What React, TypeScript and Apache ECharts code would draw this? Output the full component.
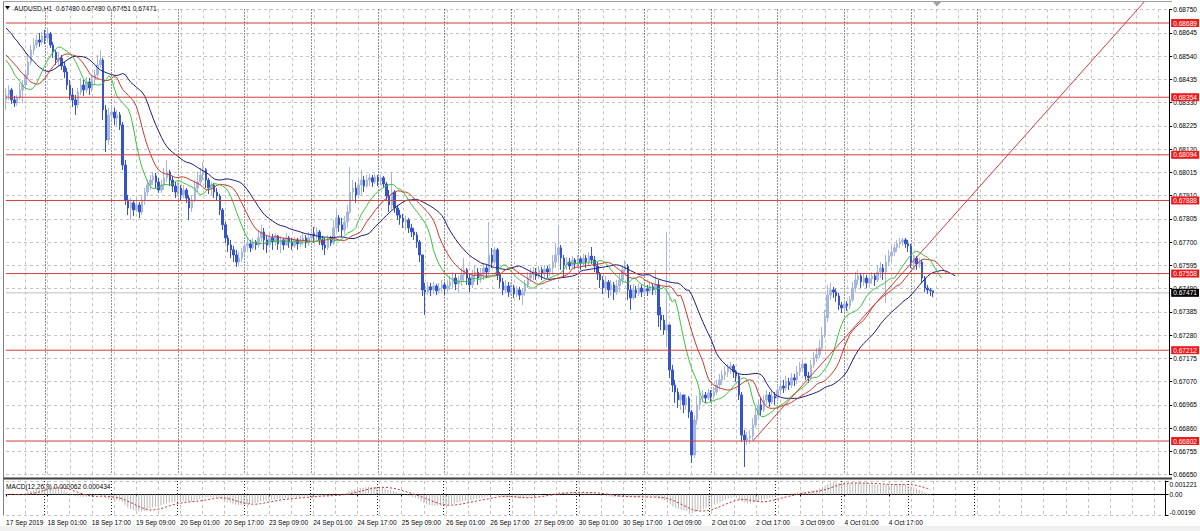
import React, { useEffect, useRef } from 'react';
import * as echarts from 'echarts';

// ---- data (AUDUSD H1) ----
const DAYS = ['17 Sep','18 Sep','19 Sep','20 Sep','23 Sep','24 Sep','25 Sep','26 Sep','27 Sep','30 Sep','1 Oct','2 Oct','3 Oct','4 Oct','7 Oct','8 Oct','9 Oct','10 Oct'];
const FIRST_HOUR = 10;
const SLOTS = 420;

const closeP = [
0.68364,0.68387,0.68342,0.68328,0.68351,0.68387,0.68409,0.68455,0.68513,0.68567,
0.68590,0.68612,0.68603,0.68631,0.68621,0.68640,0.68590,0.68558,0.68522,0.68531,
0.68495,0.68468,0.68409,0.68364,0.68342,0.68319,0.68378,0.68409,0.68387,0.68423,
0.68396,0.68432,0.68455,0.68500,0.68522,0.68297,0.68161,0.68274,0.68287,0.68260,
0.68274,0.68229,0.68048,0.67890,0.67854,0.67877,0.67845,0.67868,0.67836,0.67890,
0.67926,0.67958,0.67980,0.67999,0.67971,0.67935,0.67958,0.67990,0.68017,0.67980,
0.67953,0.67926,0.67944,0.67913,0.67935,0.67899,0.67854,0.67890,0.67944,0.67971,
0.68003,0.68026,0.67980,0.67944,0.67958,0.67926,0.67908,0.67845,0.67778,0.67719,
0.67687,0.67665,0.67642,0.67610,0.67628,0.67655,0.67683,0.67692,0.67674,0.67701,
0.67687,0.67719,0.67746,0.67710,0.67687,0.67719,0.67701,0.67728,0.67692,0.67710,
0.67687,0.67719,0.67701,0.67683,0.67710,0.67692,0.67705,0.67719,0.67696,0.67719,
0.67737,0.67728,0.67746,0.67710,0.67687,0.67674,0.67710,0.67696,0.67764,0.67809,
0.67778,0.67755,0.67791,0.67836,0.67926,0.67944,0.67913,0.67958,0.67980,0.67953,
0.67980,0.67990,0.67971,0.67994,0.67976,0.67990,0.67962,0.67908,0.67868,0.67926,
0.67854,0.67822,0.67809,0.67791,0.67800,0.67764,0.67746,0.67732,0.67701,0.67642,
0.67484,0.67475,0.67498,0.67484,0.67502,0.67480,0.67493,0.67507,0.67489,0.67502,
0.67520,0.67538,0.67511,0.67529,0.67552,0.67575,0.67538,0.67507,0.67547,0.67565,
0.67538,0.67556,0.67583,0.67565,0.67642,0.67610,0.67665,0.67552,0.67520,0.67484,
0.67502,0.67475,0.67493,0.67466,0.67484,0.67461,0.67475,0.67507,0.67538,0.67552,
0.67565,0.67547,0.67575,0.67556,0.67579,0.67565,0.67583,0.67610,0.67642,0.67674,
0.67628,0.67597,0.67610,0.67592,0.67619,0.67601,0.67624,0.67606,0.67628,0.67610,
0.67637,0.67619,0.67592,0.67556,0.67529,0.67493,0.67520,0.67484,0.67507,0.67475,
0.67502,0.67529,0.67575,0.67592,0.67484,0.67448,0.67484,0.67470,0.67493,0.67475,
0.67489,0.67480,0.67498,0.67484,0.67507,0.67371,0.67348,0.67303,0.67326,0.67123,
0.67055,0.67023,0.66987,0.67010,0.66965,0.66996,0.66933,0.66739,0.66897,0.66965,
0.66996,0.67010,0.66996,0.67019,0.67005,0.67023,0.67055,0.67078,0.67100,0.67114,
0.67132,0.67141,0.67114,0.67096,0.67010,0.66829,0.66807,0.66816,0.66825,0.66875,
0.66919,0.66965,0.66942,0.66987,0.67010,0.66978,0.67005,0.66996,0.67032,0.67050,
0.67041,0.67069,0.67055,0.67087,0.67078,0.67114,0.67132,0.67150,0.67096,0.67087,
0.67146,0.67177,0.67191,0.67222,0.67281,0.67358,0.67461,0.67484,0.67475,0.67457,
0.67416,0.67403,0.67421,0.67412,0.67439,0.67493,0.67529,0.67547,0.67520,0.67538,
0.67516,0.67534,0.67547,0.67529,0.67565,0.67583,0.67565,0.67610,0.67637,0.67655,
0.67674,0.67692,0.67701,0.67710,0.67692,0.67683,0.67610,0.67628,0.67601,0.67610,
0.67538,0.67493,0.67484,0.67480,0.67471
];

const openP = [
0.68342,0.68364,0.68387,0.68342,0.68328,0.68351,0.68387,0.68409,0.68455,0.68513,
0.68567,0.68590,0.68612,0.68603,0.68631,0.68621,0.68640,0.68590,0.68558,0.68522,
0.68531,0.68495,0.68468,0.68409,0.68364,0.68342,0.68319,0.68378,0.68409,0.68387,
0.68423,0.68396,0.68432,0.68455,0.68500,0.68522,0.68297,0.68161,0.68274,0.68287,
0.68260,0.68274,0.68229,0.68048,0.67890,0.67854,0.67877,0.67845,0.67868,0.67836,
0.67890,0.67926,0.67958,0.67980,0.67999,0.67971,0.67935,0.67958,0.67990,0.68017,
0.67980,0.67953,0.67926,0.67944,0.67913,0.67935,0.67899,0.67854,0.67890,0.67944,
0.67971,0.68003,0.68026,0.67980,0.67944,0.67958,0.67926,0.67908,0.67845,0.67778,
0.67719,0.67687,0.67665,0.67642,0.67610,0.67628,0.67655,0.67683,0.67692,0.67674,
0.67701,0.67687,0.67719,0.67746,0.67710,0.67687,0.67719,0.67701,0.67728,0.67692,
0.67710,0.67687,0.67719,0.67701,0.67683,0.67710,0.67692,0.67705,0.67719,0.67696,
0.67719,0.67737,0.67728,0.67746,0.67710,0.67687,0.67674,0.67710,0.67696,0.67764,
0.67809,0.67778,0.67755,0.67791,0.67836,0.67926,0.67944,0.67913,0.67958,0.67980,
0.67953,0.67980,0.67990,0.67971,0.67994,0.67976,0.67990,0.67962,0.67908,0.67868,
0.67926,0.67854,0.67822,0.67809,0.67791,0.67800,0.67764,0.67746,0.67732,0.67701,
0.67642,0.67484,0.67475,0.67498,0.67484,0.67502,0.67480,0.67493,0.67507,0.67489,
0.67502,0.67520,0.67538,0.67511,0.67529,0.67552,0.67575,0.67538,0.67507,0.67547,
0.67565,0.67538,0.67556,0.67583,0.67565,0.67642,0.67610,0.67665,0.67552,0.67520,
0.67484,0.67502,0.67475,0.67493,0.67466,0.67484,0.67461,0.67475,0.67507,0.67538,
0.67552,0.67565,0.67547,0.67575,0.67556,0.67579,0.67565,0.67583,0.67610,0.67642,
0.67674,0.67628,0.67597,0.67610,0.67592,0.67619,0.67601,0.67624,0.67606,0.67628,
0.67610,0.67637,0.67619,0.67592,0.67556,0.67529,0.67493,0.67520,0.67484,0.67507,
0.67475,0.67502,0.67529,0.67575,0.67592,0.67484,0.67448,0.67484,0.67470,0.67493,
0.67475,0.67489,0.67480,0.67498,0.67484,0.67507,0.67371,0.67348,0.67303,0.67326,
0.67123,0.67055,0.67023,0.66987,0.67010,0.66965,0.66996,0.66933,0.66739,0.66897,
0.66965,0.66996,0.67010,0.66996,0.67019,0.67005,0.67023,0.67055,0.67078,0.67100,
0.67114,0.67132,0.67141,0.67114,0.67096,0.67010,0.66829,0.66807,0.66816,0.66825,
0.66875,0.66919,0.66965,0.66942,0.66987,0.67010,0.66978,0.67005,0.66996,0.67032,
0.67050,0.67041,0.67069,0.67055,0.67087,0.67078,0.67114,0.67132,0.67150,0.67096,
0.67087,0.67146,0.67177,0.67191,0.67222,0.67281,0.67358,0.67461,0.67484,0.67475,
0.67457,0.67416,0.67403,0.67421,0.67412,0.67439,0.67493,0.67529,0.67547,0.67520,
0.67538,0.67516,0.67534,0.67547,0.67529,0.67565,0.67583,0.67565,0.67610,0.67637,
0.67655,0.67674,0.67692,0.67701,0.67710,0.67692,0.67683,0.67610,0.67628,0.67601,
0.67610,0.67538,0.67493,0.67484,0.67480
];

const highP = [
0.68396,0.68409,0.68396,0.68360,0.68364,0.68418,0.68432,0.68477,0.68545,0.68590,
0.68621,0.68635,0.68644,0.68649,0.68658,0.68667,0.68649,0.68603,0.68567,0.68558,
0.68545,0.68513,0.68486,0.68432,0.68396,0.68364,0.68396,0.68441,0.68432,0.68445,
0.68441,0.68455,0.68477,0.68545,0.68567,0.68531,0.68319,0.68306,0.68315,0.68306,
0.68297,0.68287,0.68242,0.68071,0.67913,0.67899,0.67890,0.67899,0.67881,0.67913,
0.67944,0.67980,0.68003,0.68017,0.68012,0.67990,0.67980,0.68035,0.68071,0.68026,
0.67999,0.67971,0.67971,0.67958,0.67958,0.67944,0.67913,0.67913,0.67980,0.68017,
0.68035,0.68062,0.68035,0.67990,0.67971,0.67967,0.67944,0.67917,0.67854,0.67791,
0.67732,0.67710,0.67683,0.67665,0.67655,0.67674,0.67701,0.67719,0.67710,0.67719,
0.67710,0.67755,0.67778,0.67764,0.67728,0.67746,0.67737,0.67741,0.67732,0.67728,
0.67719,0.67741,0.67728,0.67719,0.67723,0.67719,0.67728,0.67741,0.67732,0.67746,
0.67764,0.67768,0.67768,0.67755,0.67728,0.67719,0.67732,0.67728,0.67800,0.67845,
0.67822,0.67809,0.67818,0.67868,0.68039,0.67980,0.67971,0.67990,0.68026,0.67999,
0.68003,0.68008,0.68003,0.68008,0.68003,0.68003,0.67999,0.67971,0.67935,0.68017,
0.67935,0.67868,0.67845,0.67827,0.67818,0.67809,0.67782,0.67764,0.67746,0.67710,
0.67642,0.67516,0.67520,0.67516,0.67520,0.67511,0.67516,0.67529,0.67520,0.67525,
0.67547,0.67565,0.67556,0.67547,0.67583,0.67628,0.67583,0.67556,0.67575,0.67597,
0.67583,0.67583,0.67606,0.67597,0.67791,0.67674,0.67678,0.67674,0.67565,0.67538,
0.67529,0.67520,0.67516,0.67507,0.67502,0.67498,0.67493,0.67529,0.67565,0.67583,
0.67588,0.67583,0.67592,0.67588,0.67597,0.67592,0.67601,0.67642,0.67696,0.67778,
0.67687,0.67642,0.67633,0.67628,0.67637,0.67628,0.67642,0.67633,0.67646,0.67642,
0.67655,0.67678,0.67637,0.67610,0.67565,0.67547,0.67547,0.67529,0.67529,0.67520,
0.67529,0.67556,0.67597,0.67619,0.67601,0.67507,0.67511,0.67502,0.67511,0.67507,
0.67511,0.67507,0.67516,0.67511,0.67575,0.67529,0.67407,0.67371,0.67746,0.67326,
0.67146,0.67078,0.67041,0.67023,0.67010,0.67014,0.67005,0.66942,0.66919,0.67005,
0.67023,0.67032,0.67023,0.67037,0.67032,0.67046,0.67078,0.67105,0.67123,0.67141,
0.67150,0.67159,0.67150,0.67123,0.67105,0.67023,0.66852,0.66843,0.66852,0.66906,
0.66951,0.66987,0.66996,0.67010,0.67032,0.67023,0.67028,0.67023,0.67055,0.67078,
0.67078,0.67096,0.67087,0.67109,0.67105,0.67141,0.67159,0.67168,0.67150,0.67114,
0.67168,0.67204,0.67222,0.67258,0.67317,0.67394,0.67507,0.67516,0.67498,0.67489,
0.67470,0.67430,0.67439,0.67434,0.67457,0.67520,0.67565,0.67575,0.67561,0.67556,
0.67552,0.67556,0.67565,0.67561,0.67592,0.67610,0.67601,0.67642,0.67665,0.67683,
0.67692,0.67710,0.67719,0.67719,0.67719,0.67710,0.67692,0.67642,0.67637,0.67628,
0.67619,0.67547,0.67507,0.67493,0.67480
];

const lowP = [
0.68297,0.68342,0.68324,0.68310,0.68315,0.68342,0.68328,0.68396,0.68441,0.68500,
0.68545,0.68576,0.68581,0.68590,0.68594,0.68603,0.68576,0.68531,0.68500,0.68495,
0.68477,0.68441,0.68387,0.68342,0.68310,0.68274,0.68306,0.68364,0.68360,0.68373,
0.68364,0.68378,0.68409,0.68441,0.68486,0.68251,0.68107,0.68138,0.68251,0.68229,
0.68220,0.68206,0.68026,0.67868,0.67822,0.67800,0.67818,0.67836,0.67809,0.67822,
0.67868,0.67908,0.67935,0.67958,0.67944,0.67922,0.67922,0.67935,0.67971,0.67953,
0.67926,0.67899,0.67908,0.67890,0.67899,0.67877,0.67800,0.67836,0.67881,0.67926,
0.67958,0.67980,0.67944,0.67917,0.67913,0.67899,0.67890,0.67822,0.67755,0.67696,
0.67655,0.67628,0.67610,0.67588,0.67592,0.67610,0.67642,0.67665,0.67655,0.67665,
0.67665,0.67674,0.67701,0.67665,0.67651,0.67674,0.67665,0.67683,0.67665,0.67651,
0.67665,0.67683,0.67674,0.67665,0.67674,0.67665,0.67678,0.67687,0.67674,0.67683,
0.67701,0.67696,0.67710,0.67687,0.67665,0.67642,0.67665,0.67683,0.67687,0.67746,
0.67746,0.67723,0.67737,0.67764,0.67827,0.67890,0.67877,0.67899,0.67913,0.67926,
0.67944,0.67953,0.67949,0.67962,0.67953,0.67958,0.67944,0.67890,0.67836,0.67845,
0.67832,0.67800,0.67778,0.67764,0.67755,0.67741,0.67723,0.67710,0.67674,0.67610,
0.67457,0.67371,0.67461,0.67457,0.67466,0.67461,0.67466,0.67475,0.67461,0.67475,
0.67484,0.67493,0.67484,0.67470,0.67502,0.67520,0.67507,0.67475,0.67493,0.67520,
0.67507,0.67516,0.67529,0.67538,0.67552,0.67583,0.67597,0.67529,0.67493,0.67461,
0.67470,0.67452,0.67461,0.67448,0.67452,0.67439,0.67416,0.67457,0.67493,0.67520,
0.67529,0.67529,0.67534,0.67529,0.67538,0.67538,0.67547,0.67552,0.67583,0.67610,
0.67575,0.67543,0.67575,0.67575,0.67583,0.67579,0.67588,0.67575,0.67592,0.67583,
0.67592,0.67601,0.67565,0.67529,0.67493,0.67466,0.67475,0.67448,0.67457,0.67439,
0.67461,0.67475,0.67511,0.67556,0.67439,0.67394,0.67439,0.67448,0.67457,0.67452,
0.67461,0.67457,0.67470,0.67461,0.67461,0.67317,0.67303,0.67281,0.67227,0.67087,
0.67023,0.66974,0.66951,0.66942,0.66928,0.66942,0.66906,0.66703,0.66726,0.66875,
0.66942,0.66978,0.66974,0.66987,0.66978,0.66992,0.67010,0.67032,0.67055,0.67078,
0.67091,0.67105,0.67087,0.67069,0.66987,0.66798,0.66685,0.66784,0.66789,0.66807,
0.66861,0.66897,0.66915,0.66933,0.66965,0.66956,0.66969,0.66965,0.66987,0.67014,
0.67019,0.67028,0.67032,0.67041,0.67050,0.67059,0.67096,0.67114,0.67078,0.67064,
0.67078,0.67132,0.67159,0.67177,0.67213,0.67267,0.67339,0.67439,0.67448,0.67430,
0.67394,0.67380,0.67385,0.67389,0.67398,0.67430,0.67475,0.67507,0.67493,0.67502,
0.67493,0.67498,0.67511,0.67502,0.67520,0.67538,0.67529,0.67425,0.67592,0.67610,
0.67637,0.67655,0.67674,0.67683,0.67674,0.67655,0.67583,0.67575,0.67575,0.67583,
0.67516,0.67475,0.67466,0.67457,0.67451
];

// horizontal levels drawn by the trader, and the bid line
const LEVELS = [0.68689, 0.68354, 0.68094, 0.67888, 0.67558, 0.67212, 0.66802];
const BID = 0.67471;
// trend line: [bar index, price] end points
const TREND_X = [269, 410];
const TREND_Y = [0.66802, 0.68784];
// Alligator values visible before the first shifted value
const JAW_HEAD = [0.68667, 0.68653, 0.68640, 0.68621, 0.68608, 0.68590, 0.68576, 0.68558];
const TEETH_HEAD = [0.68545, 0.68531, 0.68518, 0.68504, 0.68491];
const LIPS_HEAD = [0.68522, 0.68504, 0.68486];
// price axis ticks / MACD axis labels
const PRICE_MIN = 0.6665;
const PRICE_MAX = 0.6875;
const PRICE_STEP = 0.00105;
const MACD_MIN = -0.0019;
const MACD_MAX = 0.001221;
const TITLE = 'AUDUSD,H1  0.67480 0.67480 0.67451 0.67471';
const MACD_TITLE = 'MACD(12,26,9) 0.000062 0.000434';

const FONT = 'Liberation Sans';
const FS = 6.6;
const LEVEL_COLOR = '#d23c3c';

function buildCategories(): string[] {
  const out: string[] = [];
  DAYS.forEach((d, di) => {
    for (let h = di === 0 ? FIRST_HOUR : 0; h < 24; h++) {
      if (out.length < SLOTS) out.push(`${d} ${String(h).padStart(2, '0')}:00`);
    }
  });
  return out;
}

function alligator(period: number, shift: number, head: number[]) {
  const out: (number | null)[] = new Array(SLOTS).fill(null);
  head.forEach((v, i) => (out[i] = v));
  let s = head[head.length - 1];
  for (let k = 0; k < closeP.length; k++) {
    const med = (highP[k] + lowP[k]) / 2;
    s = (s * (period - 1) + med) / period;
    if (k + shift < SLOTS) out[k + shift] = s;
  }
  return out;
}

function macd() {
  const a12 = 2 / 13, a26 = 2 / 27;
  let e12 = closeP[0], e26 = closeP[0];
  const main: number[] = [];
  for (let k = 0; k < closeP.length; k++) {
    e12 = closeP[k] * a12 + e12 * (1 - a12);
    e26 = closeP[k] * a26 + e26 * (1 - a26);
    main.push(e12 - e26);
  }
  const sig: number[] = main.map((_, k) => {
    const from = Math.max(0, k - 8);
    let sum = 0;
    for (let j = from; j <= k; j++) sum += main[j];
    return sum / (k - from + 1);
  });
  return { main, sig };
}

export default function App() {
  const ref = useRef<HTMLDivElement>(null);
  useEffect(() => {
    if (!ref.current) return;
    const chart = echarts.init(ref.current, undefined, { renderer: 'svg' });
    const cats = buildCategories();
    const n = closeP.length;
    const candles = closeP.map((c, i) => [openP[i], c, lowP[i], highP[i]]);
    const { main, sig } = macd();

    const labelInt = (i: number) => i === 0 || (i >= 15 && i < n && (i - 15) % 16 === 0);
    const gridInt = (i: number) => i >= 7 && (i - 7) % 8 === 0;
    const sepInt = (i: number) => i >= 14 && i <= 350 && (i - 14) % 24 === 0;

    const gridLine = { color: '#c4c4c4', type: [3, 3] as any, width: 1 };
    const sepLine = { color: '#202020', type: [1, 2] as any, width: 1 };

    const hiddenCat = (gridIndex: number, split: any, pos: string) => ({
      type: 'category', gridIndex, data: cats, boundaryGap: false, position: pos,
      axisLine: { show: false }, axisTick: { show: false }, axisLabel: { show: false },
      splitLine: split,
    });

    const hLine = (v: number, color: string, bg: string, z: number) => ({
      type: 'line', xAxisIndex: 0, yAxisIndex: 0, silent: true, showSymbol: false, z,
      color,
      data: [[0, v], [SLOTS - 1, v]],
      lineStyle: { color, width: 1, type: 'solid', opacity: 1 },
      endLabel: {
        show: true, distance: 2, formatter: v.toFixed(5),
        backgroundColor: bg, color: '#ffffff', fontSize: FS, fontFamily: FONT,
        padding: [1, 2, 0, 2],
      },
    });

    const levelSeries = LEVELS.map((v) => hLine(v, LEVEL_COLOR, '#f01818', 4));
    const bidSeries = hLine(BID, '#c0c0c0', '#000000', 1);

    chart.setOption({
      animation: false,
      backgroundColor: '#ffffff',
      textStyle: { fontFamily: FONT },
      grid: [
        { left: 6, right: 28, top: 9.5, height: 465.2 },
        { left: 6, right: 28, top: 481, height: 34.5 },
      ],
      xAxis: [
        hiddenCat(0, { show: true, interval: gridInt, lineStyle: gridLine }, 'bottom'),
        hiddenCat(0, { show: true, interval: sepInt, lineStyle: sepLine }, 'top'),
        {
          type: 'category', gridIndex: 1, data: cats, boundaryGap: false, position: 'bottom',
          axisLine: { show: true, lineStyle: { color: '#000', width: 1 } },
          axisTick: { show: true, interval: labelInt, length: 2, lineStyle: { color: '#000' } },
          axisLabel: {
            show: true, interval: labelInt, align: 'left', margin: 3, fontSize: FS, color: '#000',
            fontFamily: FONT,
            formatter: (v: string, i: number) => (i === 0 ? '17 Sep 2019' : v),
          },
          splitLine: { show: true, interval: gridInt, lineStyle: gridLine },
        },
        hiddenCat(1, { show: true, interval: sepInt, lineStyle: sepLine }, 'top'),
      ],
      yAxis: [
        {
          type: 'value', gridIndex: 0, position: 'right', min: PRICE_MIN, max: PRICE_MAX, interval: PRICE_STEP,
          axisLine: { show: true, lineStyle: { color: '#000', width: 1 } },
          axisTick: { show: true, length: 3, lineStyle: { color: '#000' } },
          axisLabel: { margin: 4, fontSize: FS, color: '#000', fontFamily: FONT, formatter: (v: number) => v.toFixed(5) },
          splitLine: { show: true, lineStyle: gridLine },
        },
        {
          type: 'value', gridIndex: 1, position: 'right', min: MACD_MIN, max: MACD_MAX, interval: 0.0019,
          axisLine: { show: true, lineStyle: { color: '#000', width: 1 } },
          axisTick: { show: true, length: 3, lineStyle: { color: '#000' } },
          axisLabel: {
            margin: 4, fontSize: FS, color: '#000', fontFamily: FONT,
            verticalAlignMaxLabel: 'top', verticalAlignMinLabel: 'bottom',
            formatter: (v: number) => (Math.abs(v) < 1e-9 ? '0.00' : v < 0 ? '-0.00190' : '0.001221'),
          },
          splitLine: { show: true, lineStyle: gridLine },
        },
      ],
      series: [
        bidSeries,
        {
          type: 'candlestick', xAxisIndex: 0, yAxisIndex: 0, data: candles, barWidth: 2, z: 2,
          itemStyle: {
            color: '#a6b6de', color0: '#3454c8', borderColor: '#a6b6de', borderColor0: '#3454c8', borderWidth: 1,
          },
        },
        {
          type: 'line', xAxisIndex: 0, yAxisIndex: 0, data: alligator(13, 8, JAW_HEAD), showSymbol: false,
          lineStyle: { color: '#1c1c78', width: 1 }, z: 3, silent: true,
        },
        {
          type: 'line', xAxisIndex: 0, yAxisIndex: 0, data: alligator(8, 5, TEETH_HEAD), showSymbol: false,
          lineStyle: { color: '#c83a2a', width: 1 }, z: 3, silent: true,
        },
        {
          type: 'line', xAxisIndex: 0, yAxisIndex: 0, data: alligator(5, 3, LIPS_HEAD), showSymbol: false,
          lineStyle: { color: '#3cc03c', width: 1 }, z: 3, silent: true,
        },
        ...levelSeries,
        {
          type: 'line', xAxisIndex: 0, yAxisIndex: 0, clip: false, showSymbol: false, silent: true, z: 4,
          color: LEVEL_COLOR,
          data: TREND_X.map((x, i) => [x, TREND_Y[i]]),
          lineStyle: { color: LEVEL_COLOR, width: 1 },
        },
        {
          type: 'bar', xAxisIndex: 2, yAxisIndex: 1, data: main, barWidth: 1,
          itemStyle: { color: '#b8b8b8' }, silent: true,
        },
        {
          type: 'line', xAxisIndex: 2, yAxisIndex: 1, data: sig, showSymbol: false, silent: true,
          lineStyle: { color: '#c03030', width: 1, type: [2, 2] },
        },
      ],
      graphic: [
        { type: 'rect', silent: true, shape: { x: 0, y: 526, width: 1200, height: 5 }, style: { fill: '#f0f0f0' } },
        { type: 'line', silent: true, shape: { x1: 3.5, y1: 1.5, x2: 3.5, y2: 515.5 }, style: { stroke: '#808080', lineWidth: 1 } },
        { type: 'line', silent: true, shape: { x1: 3.5, y1: 1.5, x2: 1172, y2: 1.5 }, style: { stroke: '#a0a0a0', lineWidth: 1 } },
        { type: 'line', silent: true, shape: { x1: 3.5, y1: 478.5, x2: 1172, y2: 478.5 }, style: { stroke: '#404040', lineWidth: 2 } },
        { type: 'polygon', silent: true, shape: { points: [[5, 6], [10, 6], [7.5, 9.5]] }, style: { fill: '#000' } },
        { type: 'text', silent: true, x: 14, y: 8, style: { text: TITLE, fontSize: FS, fill: '#000', fontFamily: FONT, verticalAlign: 'middle' } },
        { type: 'text', silent: true, x: 6, y: 486, style: { text: MACD_TITLE, fontSize: FS, fill: '#000', fontFamily: FONT, verticalAlign: 'middle' } },
        { type: 'polygon', silent: true, shape: { points: [[933, 2], [941, 2], [937, 6.5]] }, style: { fill: '#a0a0a0' } },
      ],
    });
    return () => chart.dispose();
  }, []);
  return <div ref={ref} style={{ position: 'absolute', left: 0, top: 0, width: 1200, height: 531 }} />;
}
